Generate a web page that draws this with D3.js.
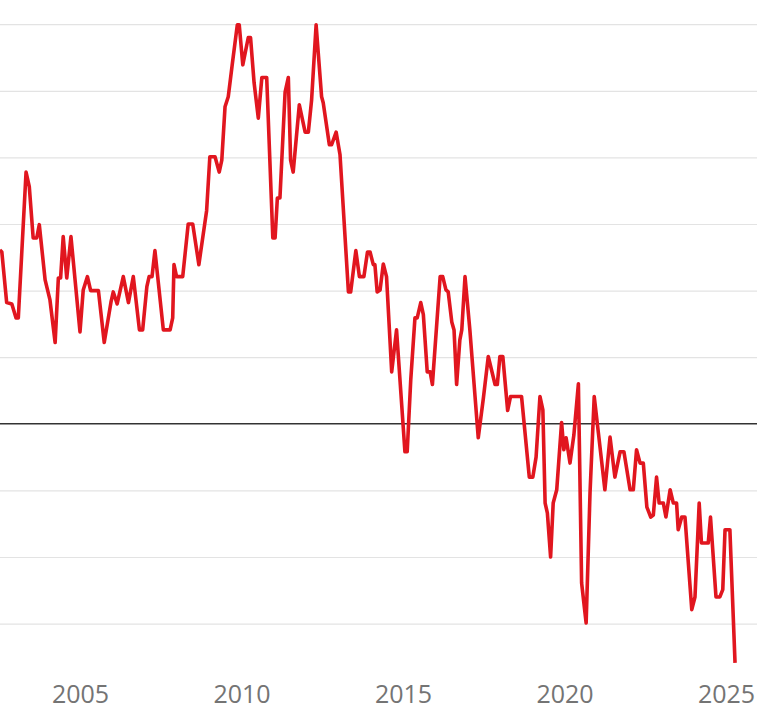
<!DOCTYPE html>
<html>
<head>
<meta charset="utf-8">
<script src="https://cdn.jsdelivr.net/npm/d3@7"></script>
<style>
  html, body { margin: 0; padding: 0; background: #fff; overflow: hidden; }
  svg { display: block; }
</style>
</head>
<body>
<svg id="chart" width="768" height="717"></svg>
<script>
// Decimal years of each observation
const years = [
  2002.52, 2002.58, 2002.73, 2002.89, 2003.02, 2003.09, 2003.33, 2003.43, 2003.55, 2003.66,
  2003.74, 2003.92, 2004.07, 2004.23, 2004.33, 2004.40, 2004.48, 2004.59, 2004.72, 2005.00,
  2005.10, 2005.23, 2005.33, 2005.57, 2005.75, 2005.96, 2006.03, 2006.15, 2006.34, 2006.50,
  2006.65, 2006.84, 2006.94, 2007.07, 2007.14, 2007.23, 2007.32, 2007.58, 2007.79, 2007.87,
  2007.91, 2007.99, 2008.18, 2008.35, 2008.49, 2008.68, 2008.92, 2009.02, 2009.18, 2009.31,
  2009.39, 2009.49, 2009.59, 2009.72, 2009.87, 2009.93, 2010.04, 2010.21, 2010.28, 2010.39,
  2010.52, 2010.63, 2010.78, 2010.97, 2011.04, 2011.11, 2011.19, 2011.35, 2011.45, 2011.52,
  2011.60, 2011.79, 2011.97, 2012.07, 2012.17, 2012.31, 2012.48, 2012.53, 2012.72, 2012.79,
  2012.93, 2013.05, 2013.31, 2013.38, 2013.54, 2013.65, 2013.79, 2013.90, 2013.98, 2014.08,
  2014.13, 2014.20, 2014.29, 2014.39, 2014.49, 2014.65, 2014.80, 2015.06, 2015.13, 2015.24,
  2015.37, 2015.44, 2015.55, 2015.63, 2015.75, 2015.84, 2015.91, 2016.15, 2016.23, 2016.33,
  2016.40, 2016.51, 2016.58, 2016.66, 2016.76, 2016.82, 2016.92, 2017.07, 2017.33, 2017.49,
  2017.64, 2017.85, 2017.92, 2018.00, 2018.09, 2018.24, 2018.33, 2018.67, 2018.91, 2019.02,
  2019.12, 2019.24, 2019.33, 2019.40, 2019.47, 2019.57, 2019.65, 2019.76, 2019.91, 2019.98,
  2020.05, 2020.17, 2020.29, 2020.43, 2020.53, 2020.67, 2020.79, 2020.92, 2021.05, 2021.25,
  2021.41, 2021.56, 2021.72, 2021.84, 2022.03, 2022.13, 2022.23, 2022.34, 2022.44, 2022.55,
  2022.67, 2022.75, 2022.85, 2022.93, 2023.06, 2023.14, 2023.27, 2023.37, 2023.47, 2023.52,
  2023.63, 2023.73, 2023.94, 2024.04, 2024.17, 2024.24, 2024.45, 2024.52, 2024.69, 2024.81,
  2024.90, 2024.97, 2025.12, 2025.28
];

// Series values (one unit per gridline)
const values = [
  2.61, 2.58, 1.82, 1.80, 1.59, 1.59, 3.78, 3.56, 2.79, 2.79,
  2.99, 2.16, 1.86, 1.22, 2.19, 2.19, 2.81, 2.19, 2.81, 1.38,
  2.01, 2.21, 2.00, 2.00, 1.22, 1.83, 1.98, 1.80, 2.21, 1.82,
  2.21, 1.41, 1.41, 2.06, 2.21, 2.21, 2.60, 1.41, 1.41, 1.59,
  2.39, 2.21, 2.21, 3.00, 3.00, 2.39, 3.20, 4.01, 4.01, 3.78,
  3.96, 4.76, 4.91, 5.42, 5.99, 5.99, 5.39, 5.80, 5.80, 5.12,
  4.59, 5.20, 5.20, 2.79, 2.79, 3.39, 3.39, 4.98, 5.20, 3.96,
  3.78, 4.79, 4.38, 4.38, 4.86, 5.99, 4.91, 4.82, 4.19, 4.19,
  4.38, 4.04, 1.98, 1.98, 2.60, 2.21, 2.21, 2.58, 2.58, 2.39,
  2.39, 1.98, 2.01, 2.40, 2.21, 0.78, 1.41, -0.42, -0.42, 0.66,
  1.59, 1.59, 1.82, 1.64, 0.78, 0.78, 0.59, 2.21, 2.21, 2.01,
  1.98, 1.53, 1.41, 0.59, 1.26, 1.41, 2.21, 1.41, -0.21, 0.39,
  1.01, 0.59, 0.59, 1.01, 1.01, 0.20, 0.41, 0.41, -0.80, -0.80,
  -0.50, 0.41, 0.21, -1.19, -1.34, -2.00, -1.19, -0.99, 0.02, -0.39,
  -0.21, -0.59, -0.17, 0.60, -2.39, -2.99, -1.04, 0.41, -0.14, -0.99,
  -0.20, -0.80, -0.42, -0.42, -0.99, -0.99, -0.39, -0.59, -0.59, -1.25,
  -1.40, -1.37, -0.80, -1.19, -1.19, -1.40, -0.99, -1.19, -1.19, -1.59,
  -1.40, -1.40, -2.79, -2.60, -1.19, -1.79, -1.79, -1.40, -2.60, -2.60,
  -2.49, -1.59, -1.59, -3.59
];

const gridValues = [-3, -2, -1, 1, 2, 3, 4, 5, 6];
const xTickValues = [2005, 2010, 2015, 2020, 2025];
const xTickLabels = ["2005", "2010", "2015", "2020", "2025"];

const data = years.map((y, i) => ({ year: y, value: values[i] }));

const svg = d3.select("#chart");

const x = d3.scaleLinear().domain([2005, 2025]).range([80, 726]);
const y = d3.scaleLinear().domain([-3, 6]).range([623.6, 24.2]);

const gridRight = 757;

// Gridlines
svg.append("g")
  .attr("class", "grid")
  .call(d3.axisLeft(y).tickValues(gridValues).tickSize(-gridRight).tickFormat(""))
  .call(g => g.select(".domain").remove())
  .call(g => g.selectAll(".tick line").attr("stroke", "#e3e3e3").attr("stroke-width", 1.2));

// Zero line
svg.append("line")
  .attr("x1", 0).attr("x2", gridRight)
  .attr("y1", y(0)).attr("y2", y(0))
  .attr("stroke", "#333").attr("stroke-width", 1.5);

// X axis labels
svg.append("g")
  .attr("transform", "translate(0,680)")
  .call(d3.axisBottom(x).tickValues(xTickValues).tickSize(0)
    .tickFormat((d, i) => xTickLabels[i]))
  .call(g => g.select(".domain").remove())
  .call(g => g.selectAll("text")
    .attr("fill", "#747474")
    .attr("font-family", "'Open Sans', sans-serif")
    .attr("font-size", 25)
    .attr("dy", "0.71em")
    .attr("y", 5));

// Line
const line = d3.line().x(d => x(d.year)).y(d => y(d.value)).curve(d3.curveLinear);

svg.append("path")
  .datum(data)
  .attr("fill", "none")
  .attr("stroke", "#e1161f")
  .attr("stroke-width", 3.6)
  .attr("stroke-linejoin", "round")
  .attr("stroke-linecap", "butt")
  .attr("d", line);
</script>
</body>
</html>
